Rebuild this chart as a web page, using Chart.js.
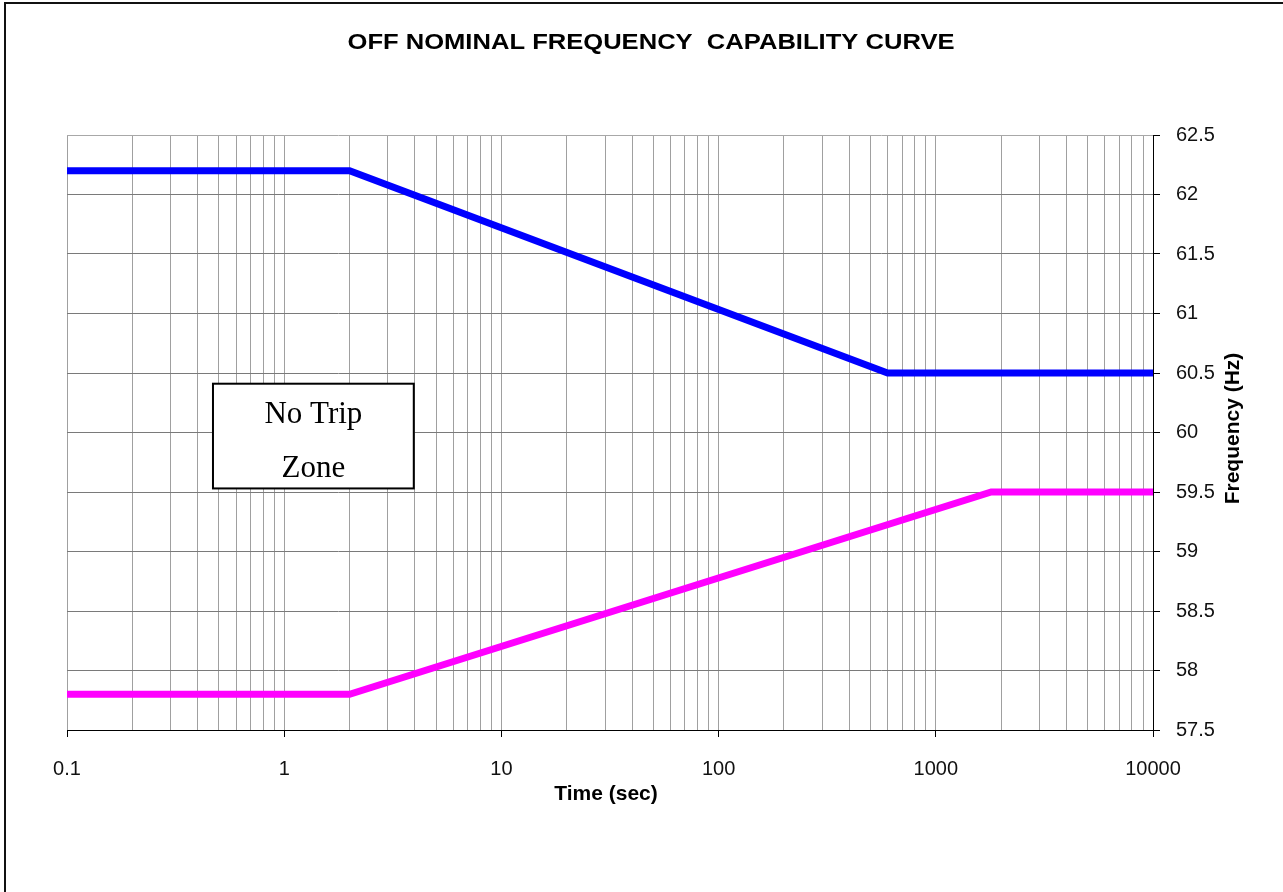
<!DOCTYPE html>
<html lang="en">
<head>
  <meta charset="UTF-8">
  <title>Off Nominal Frequency Capability Curve</title>
  <script src="https://cdn.jsdelivr.net/npm/chart.js@4"></script>
  <style>
    * { margin: 0; padding: 0; box-sizing: border-box; }
    body { background: #fff; width: 1283px; height: 892px; overflow: hidden; }
    canvas { display: block; }
  </style>
</head>
<body>
  <canvas id="curve" width="1283" height="892"></canvas>

  <script>
    const chartTitle = 'OFF NOMINAL FREQUENCY  CAPABILITY CURVE';
    const xTitle = 'Time (sec)';
    const yTitle = 'Frequency (Hz)';

    // upper (over-frequency) limit
    const upperTime = [0.1, 2, 600, 10000];
    const upperFreq = [62.2, 62.2, 60.5, 60.5];
    // lower (under-frequency) limit
    const lowerTime = [0.1, 2, 1800, 10000];
    const lowerFreq = [57.8, 57.8, 59.5, 59.5];

    const timeDecades = [0.1, 1, 10, 100, 1000, 10000];
    const freqTicks = [57.5, 58, 58.5, 59, 59.5, 60, 60.5, 61, 61.5, 62, 62.5];

    const boxLines = ['No Trip', 'Zone'];
    const boxTime = [0.47, 3.95];
    const boxFreq = [59.53, 60.41];

    // every decade plus its 2..9 minors for the vertical grid
    const timeGrid = [];
    timeDecades.forEach((d, i) => {
      if (i === timeDecades.length - 1) { timeGrid.push(d); return; }
      for (let k = 1; k <= 9; k++) timeGrid.push(+(d * k).toPrecision(6));
    });

    const sans = "'Liberation Sans', Arial, sans-serif";
    const serif = "'Liberation Serif', 'Times New Roman', serif";
    const pts = (xs, ys) => xs.map((x, i) => ({ x, y: ys[i] }));

    const decorations = {
      id: 'decorations',
      afterDraw(chart) {
        const { ctx, scales: { x, y } } = chart;
        ctx.save();

        // outer frame (only top/left edges are inside the picture)
        ctx.strokeStyle = '#111';
        ctx.lineWidth = 2;
        ctx.strokeRect(5, 3, 1400, 1000);

        ctx.fillStyle = '#000';
        ctx.textBaseline = 'alphabetic';

        // chart title, stretched a little to match the original width
        ctx.font = 'bold 22px ' + sans;
        const tw = ctx.measureText(chartTitle).width;
        ctx.save();
        ctx.translate(651, 49);
        ctx.scale(607 / tw, 1);
        ctx.textAlign = 'center';
        ctx.fillText(chartTitle, 0, 0);
        ctx.restore();

        // axis titles
        ctx.font = 'bold 21px ' + sans;
        ctx.textAlign = 'center';
        ctx.fillText(xTitle, (x.left + x.right) / 2 - 4, 800);
        ctx.save();
        ctx.translate(1239, (y.top + y.bottom) / 2 - 4);
        ctx.rotate(-Math.PI / 2);
        ctx.fillText(yTitle, 0, 0);
        ctx.restore();

        // "No Trip Zone" box
        const bl = x.getPixelForValue(boxTime[0]);
        const br = x.getPixelForValue(boxTime[1]);
        const bt = y.getPixelForValue(boxFreq[1]);
        const bb = y.getPixelForValue(boxFreq[0]);
        ctx.fillStyle = '#fff';
        ctx.fillRect(bl, bt, br - bl, bb - bt);
        ctx.strokeStyle = '#000';
        ctx.lineWidth = 2;
        ctx.strokeRect(bl, bt, br - bl, bb - bt);
        ctx.fillStyle = '#000';
        ctx.font = '31px ' + serif;
        ctx.fillText(boxLines[0], (bl + br) / 2, bt + 39);
        ctx.fillText(boxLines[1], (bl + br) / 2, bt + 93);

        ctx.restore();
      }
    };

    new Chart(document.getElementById('curve'), {
      type: 'scatter',
      data: {
        datasets: [
          { label: 'Upper limit', data: pts(upperTime, upperFreq), showLine: true,
            borderColor: '#0000ff', borderWidth: 7, pointRadius: 0, tension: 0 },
          { label: 'Lower limit', data: pts(lowerTime, lowerFreq), showLine: true,
            borderColor: '#ff00ff', borderWidth: 7, pointRadius: 0, tension: 0 }
        ]
      },
      options: {
        responsive: false,
        animation: false,
        events: [],
        layout: { padding: { left: 67, top: 135, right: 0, bottom: 0 } },
        plugins: { legend: { display: false }, tooltip: { enabled: false } },
        scales: {
          x: {
            type: 'logarithmic',
            min: 0.1,
            max: 10000,
            afterFit: s => { s.height = 162; },
            afterBuildTicks: s => { s.ticks = timeGrid.map(v => ({ value: v })); },
            grid: {
              color: c => c.tick && c.tick.value === 10000 ? '#000' : '#a0a0a0',
              tickColor: c => c.tick && timeDecades.includes(c.tick.value) ? '#000' : 'rgba(0,0,0,0)',
              tickLength: 7,
              lineWidth: 1
            },
            border: { color: '#000', width: 1 },
            ticks: {
              autoSkip: false,
              maxRotation: 0,
              padding: 20,
              color: '#111',
              font: { family: sans, size: 20 },
              callback: v => timeDecades.includes(v) ? String(v) : ''
            }
          },
          y: {
            position: 'right',
            min: 57.5,
            max: 62.5,
            afterFit: s => { s.width = 130; },
            afterBuildTicks: s => { s.ticks = freqTicks.map(v => ({ value: v })); },
            grid: {
              color: c => {
                const v = c.tick && c.tick.value;
                if (v === 57.5) return '#000';
                if (v === 62.5) return '#a8a8a8';
                return '#7a7a7a';
              },
              tickColor: '#000',
              tickLength: 7,
              lineWidth: 1
            },
            border: { color: '#000', width: 1 },
            ticks: {
              padding: 16,
              color: '#111',
              font: { family: sans, size: 20 },
              callback: v => String(v)
            }
          }
        }
      },
      plugins: [decorations]
    });
  </script>
</body>
</html>
